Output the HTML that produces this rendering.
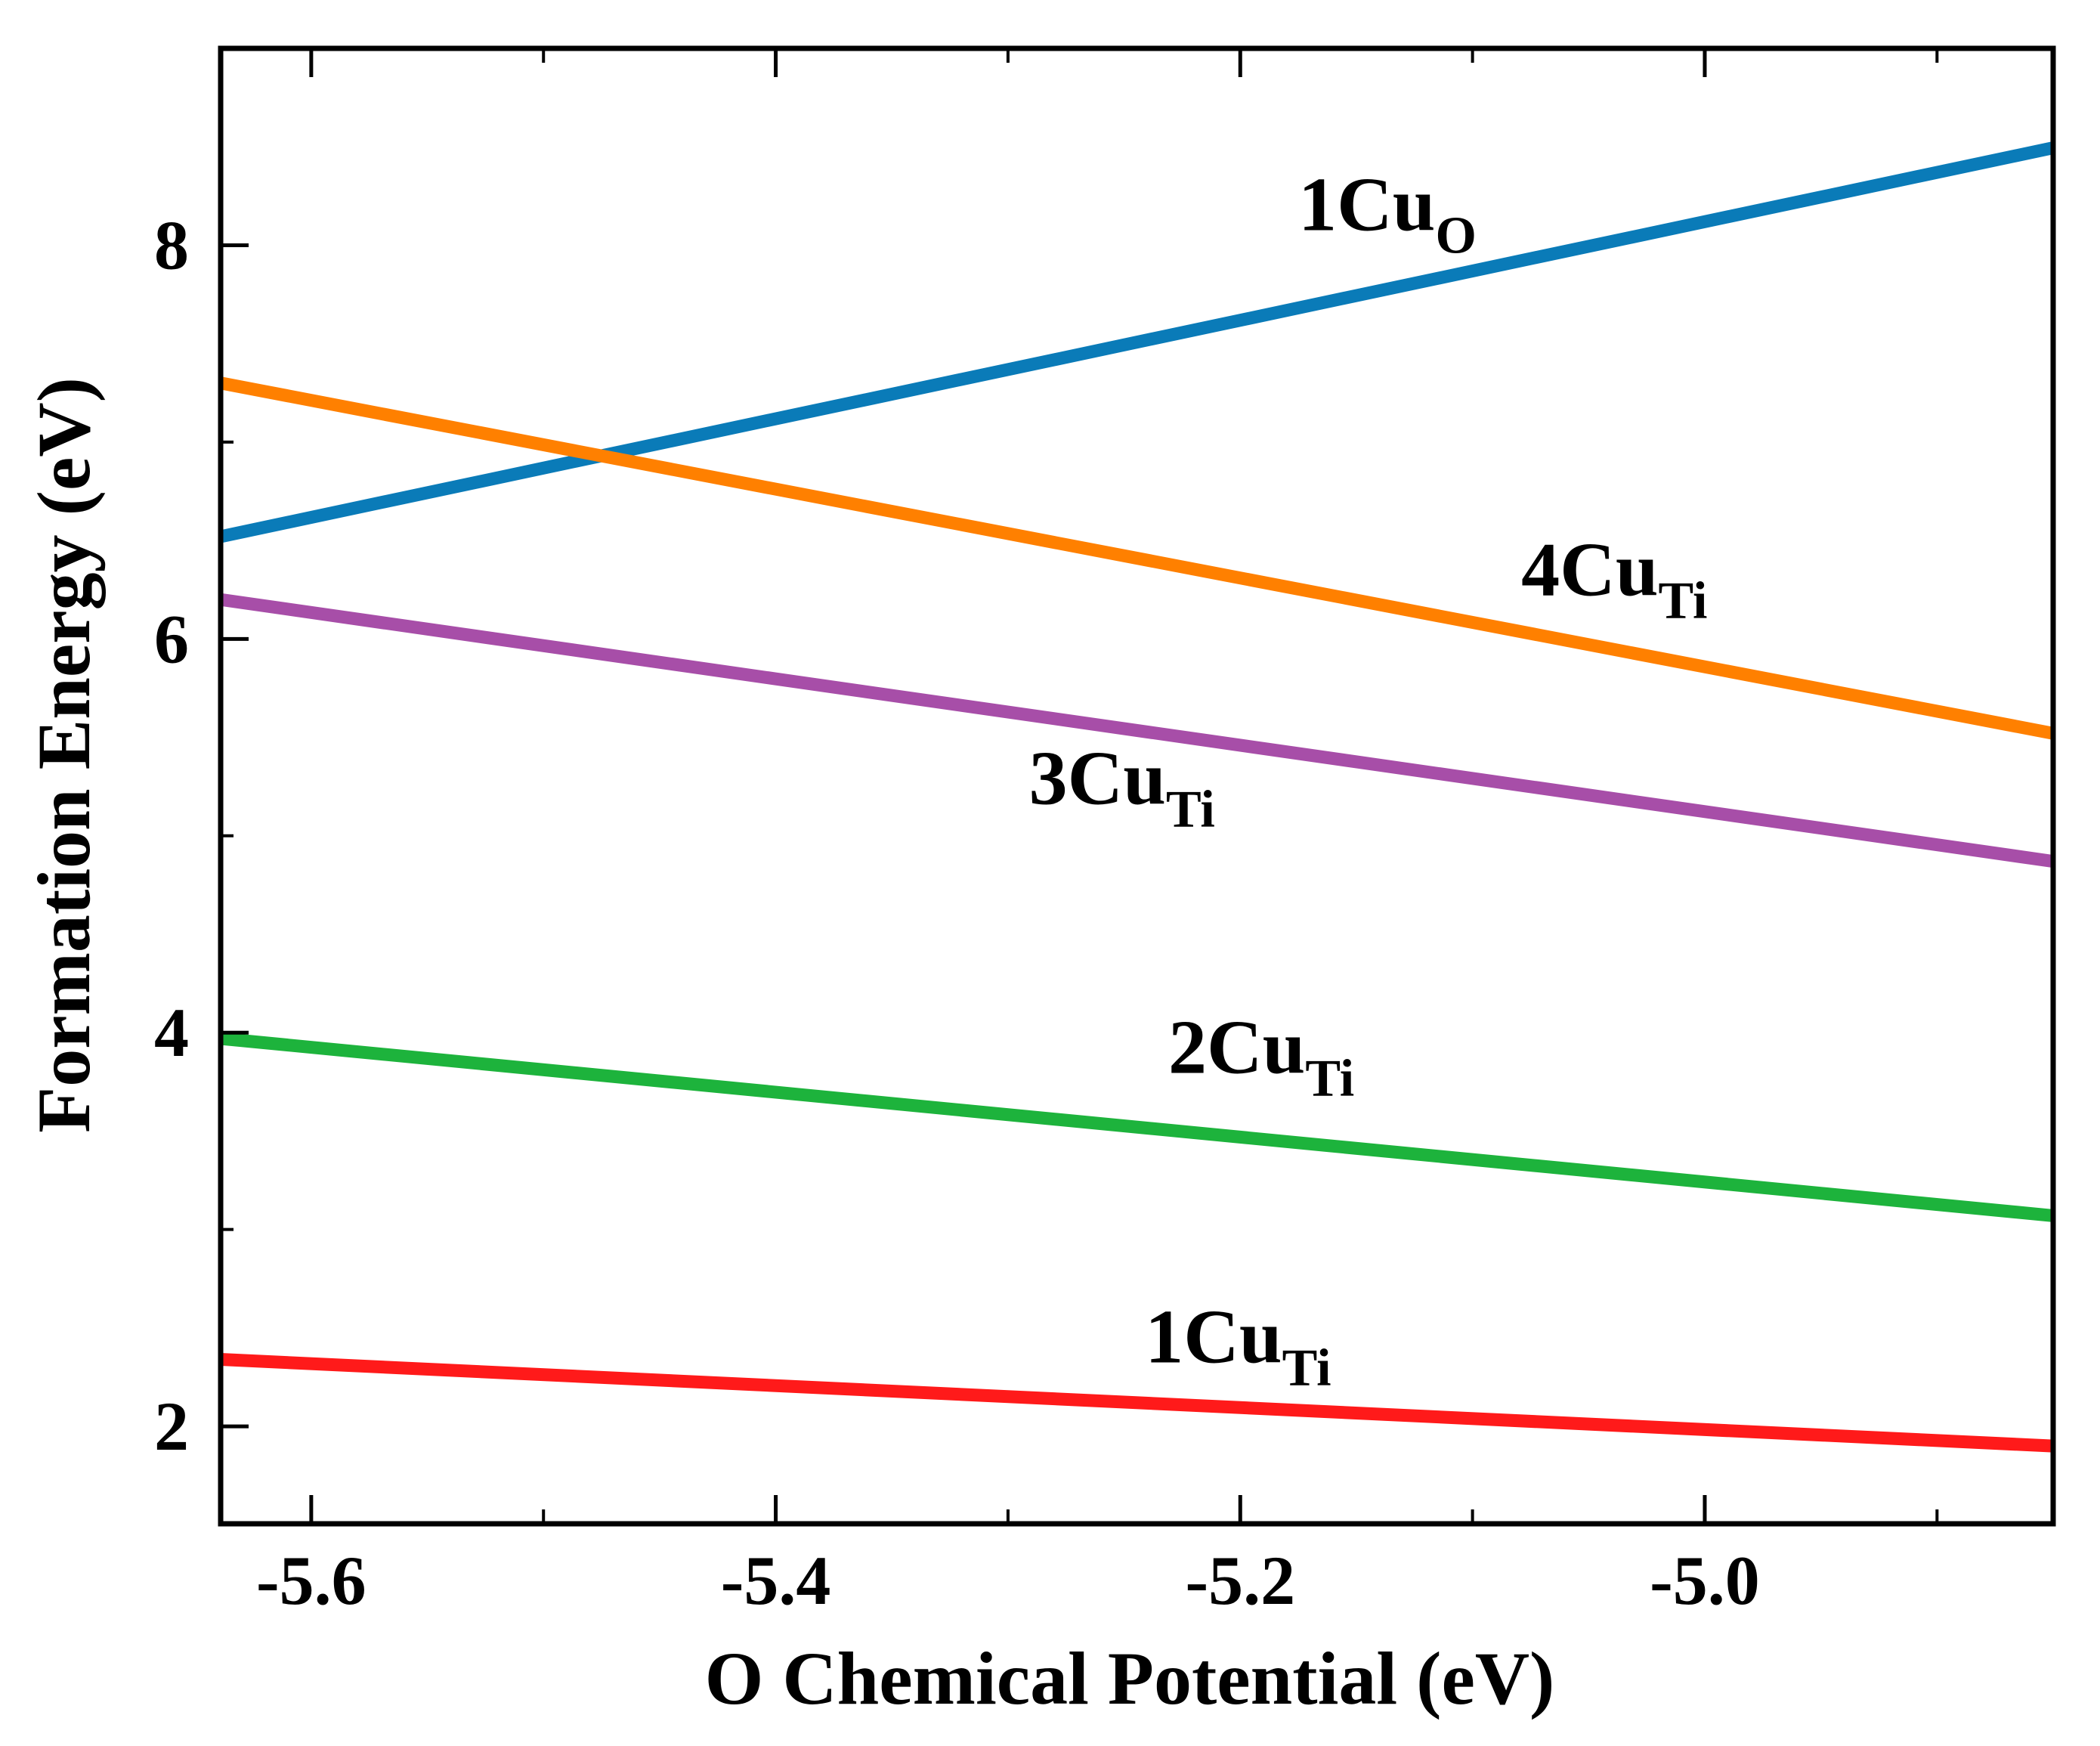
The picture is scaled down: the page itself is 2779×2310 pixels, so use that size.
<!DOCTYPE html>
<html><head><meta charset="utf-8"><style>
html,body{margin:0;padding:0;background:#fff;}
svg{display:block;}
text{font-family:"Liberation Serif",serif;font-weight:bold;fill:#000;}
</style></head><body>
<svg id="chart" width="2779" height="2310" viewBox="0 0 2779 2310" xmlns="http://www.w3.org/2000/svg">
<g id="marks"></g>
<g id="axes"></g>
<g id="labels"></g>
<text x="1495" y="2254" font-size="100" text-anchor="middle">O Chemical Potential (eV)</text>
<text transform="translate(118,999) rotate(-90)" font-size="100" text-anchor="middle">Formation Energy (eV)</text>
</svg>
<script>
const seriesNames = ["1CuO","4CuTi","3CuTi","2CuTi","1CuTi"];
const seriesColors = ["#0a7bb8","#ff8000","#a74ea8","#1db33c","#ff1a1a"];
const xEnds = [-5.639, -4.85];
const blueVals = [6.52, 8.495];
const orangeVals = [7.30, 5.52];
const purpleVals = [6.20, 4.87];
const greenVals = [3.97, 3.07];
const redVals = [2.34, 1.90];
const xMajorTicks = [-5.6, -5.4, -5.2, -5.0];
const xTickLabels = ["-5.6","-5.4","-5.2","-5.0"];
const xMinorTicks = [-5.5, -5.3, -5.1, -4.9];
const yMajorTicks = [2, 4, 6, 8];
const yTickLabels = ["2","4","6","8"];
const yMinorTicks = [3, 5, 7];
const labelBase = ["1Cu","4Cu","3Cu","2Cu","1Cu"];
const labelSub = ["O","Ti","Ti","Ti","Ti"];
const labelX = [-5.175, -5.079, -5.291, -5.231, -5.241];
const labelY = [8.077, 6.222, 5.162, 3.795, 2.325];

const NS = "http://www.w3.org/2000/svg";
const L = 292, R = 2717, T = 64, B = 2016;
const X0 = -5.639, X1 = -4.85, Y0 = 1.505, Y1 = 9.0;
const sx = v => L + (v - X0) / (X1 - X0) * (R - L);
const sy = v => B - (v - Y0) / (Y1 - Y0) * (B - T);
function mk(tag, attrs, parent){ const e = document.createElementNS(NS, tag); for (const k in attrs) e.setAttribute(k, attrs[k]); parent.appendChild(e); return e; }

const marks = document.getElementById('marks');
const allVals = [blueVals, orangeVals, purpleVals, greenVals, redVals];
allVals.forEach((vals, i) => {
  const ln = mk('line', {x1: sx(xEnds[0]), y1: sy(vals[0]), x2: sx(xEnds[1]), y2: sy(vals[1]), stroke: seriesColors[i], 'stroke-width': 17}, marks);
  
  
});

const axes = document.getElementById('axes');
const frame = mk('rect', {x: L, y: T, width: R - L, height: B - T, fill: 'none', stroke: '#000', 'stroke-width': 7}, axes);


xMajorTicks.forEach((v, i) => {
  const x = sx(v);
  const t = mk('line', {x1: x, y1: B, x2: x, y2: B - 38, stroke: '#000', 'stroke-width': 5}, axes);
  
  
  const t2 = mk('line', {x1: x, y1: T, x2: x, y2: T + 38, stroke: '#000', 'stroke-width': 5}, axes);
  
  
  const lb = mk('text', {x: x, y: 2122, 'font-size': 92, 'text-anchor': 'middle'}, axes);
  lb.textContent = xTickLabels[i];
  
  
});
xMinorTicks.forEach(v => {
  const x = sx(v);
  const t = mk('line', {x1: x, y1: B, x2: x, y2: B - 19, stroke: '#000', 'stroke-width': 4}, axes);
  
  
  const t2 = mk('line', {x1: x, y1: T, x2: x, y2: T + 19, stroke: '#000', 'stroke-width': 4}, axes);
  
  
});
yMajorTicks.forEach((v, i) => {
  const y = sy(v);
  const t = mk('line', {x1: L, y1: y, x2: L + 37, y2: y, stroke: '#000', 'stroke-width': 5}, axes);
  
  
  const lb = mk('text', {x: 250, y: y + 31, 'font-size': 92, 'text-anchor': 'end'}, axes);
  lb.textContent = yTickLabels[i];
  
  
});
yMinorTicks.forEach(v => {
  const y = sy(v);
  const t = mk('line', {x1: L, y1: y, x2: L + 17, y2: y, stroke: '#000', 'stroke-width': 4}, axes);
  
  
});

const labels = document.getElementById('labels');
labelBase.forEach((b, i) => {
  const tx = mk('text', {x: sx(labelX[i]), y: sy(labelY[i]), 'font-size': 102}, labels);
  
  
  const s1 = mk('tspan', {}, tx); s1.textContent = b;
  const s2 = mk('tspan', {dy: 30, 'font-size': 70}, tx); s2.textContent = labelSub[i];
});
</script>
</body></html>
